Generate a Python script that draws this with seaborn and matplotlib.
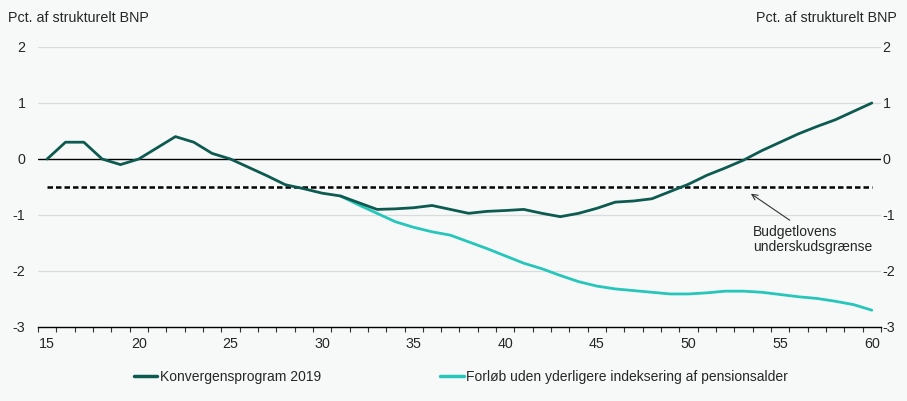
import numpy as np
import pandas as pd
import seaborn as sns
from matplotlib import pyplot as plt
from matplotlib.ticker import MultipleLocator

sns.set_style("white", {"axes.facecolor": "#f7f9f9", "figure.facecolor": "#f7f9f9"})
plt.rcParams['font.family'] = ['Liberation Sans', 'DejaVu Sans']
plt.rcParams['axes.unicode_minus'] = False

years = list(range(15, 61))
konvergens = [0.0, 0.3, 0.3, 0.0, -0.1, 0.0, 0.2, 0.4, 0.3, 0.1,
              0.0, -0.15, -0.3, -0.46, -0.53, -0.61, -0.66, -0.78, -0.9, -0.89,
              -0.87, -0.83, -0.9, -0.97, -0.935, -0.92, -0.9, -0.97, -1.03, -0.97,
              -0.88, -0.77, -0.75, -0.71, -0.58, -0.45, -0.29, -0.16, -0.02, 0.15,
              0.3, 0.45, 0.58, 0.7, 0.85, 1.0]
uden_indeksering = [-0.66, -0.82, -0.97, -1.12, -1.22, -1.3, -1.36, -1.48, -1.6, -1.73,
                    -1.86, -1.96, -2.08, -2.19, -2.27, -2.32, -2.35, -2.38, -2.41, -2.41,
                    -2.39, -2.36, -2.36, -2.38, -2.42, -2.46, -2.49, -2.54, -2.6, -2.7]
uden_years = years[16:]
graense = -0.5

names = ["Konvergensprogram 2019", "Forløb uden yderligere indeksering af pensionsalder"]
colors = ["#0d5b50", "#27c6ba"]

df = pd.concat([
    pd.DataFrame({"år": years, "værdi": konvergens, "serie": names[0]}),
    pd.DataFrame({"år": uden_years, "værdi": uden_indeksering, "serie": names[1]}),
])

fig = plt.figure(figsize=(9.07, 4.01), dpi=100)
ax = fig.add_axes([38/907, 1-327/401, (881-38)/907, 280/401])

ax.axhline(0, color="black", lw=1, zorder=1)
for g in [2, 1, -1, -2]:
    ax.axhline(g, color="#d9dcdc", lw=0.9, zorder=0)
ax.plot([years[0], years[-1]], [graense, graense], color="black", lw=1.8, dashes=(2.2, 1.2), zorder=2)

# cyan first so the dark line sits on top
sns.lineplot(data=df, x="år", y="værdi", hue="serie", hue_order=names[::-1],
             palette=colors[::-1], lw=2, ax=ax, legend=False, zorder=3)

ax.set_xlim(14.5, 60.5)
ax.set_ylim(-3, 2)
ax.set_xticks(range(15, 61, 5))
ax.xaxis.set_minor_locator(MultipleLocator(1, offset=0.5))
ax.tick_params(axis="x", which="major", bottom=False, length=0, pad=7, labelsize=10.3)
ax.tick_params(axis="x", which="minor", bottom=True, length=3.5, width=0.8,
               color="#333333", direction="out")
ax.tick_params(axis="y", length=0, labelsize=10.3, pad=9, labelleft=True, labelright=False)
ax.set_yticks([-3, -2, -1, 0, 1, 2])
ax.set_xlabel("")
ax.set_ylabel("")
for s in ["top", "left", "right"]:
    ax.spines[s].set_visible(False)
ax.spines["bottom"].set_color("black")
ax.spines["bottom"].set_linewidth(1)

ax2 = ax.twinx()
ax2.set_ylim(-3, 2)
ax2.set_yticks([-3, -2, -1, 0, 1, 2])
ax2.tick_params(axis="y", length=0, labelsize=10.3, pad=1)
for s in ax2.spines.values():
    s.set_visible(False)

fig.text(8/907, 1-18/401, "Pct. af strukturelt BNP", fontsize=10.3, va="center", ha="left")
fig.text(897/907, 1-18/401, "Pct. af strukturelt BNP", fontsize=10.3, va="center", ha="right")

ax.annotate("Budgetlovens\nunderskudsgrænse", xy=(53.4, -0.62), xytext=(53.5, -1.18),
            fontsize=10, ha="left", va="top", linespacing=1.05,
            arrowprops=dict(arrowstyle="->", color="#333333", lw=0.8, shrinkA=2, shrinkB=0,
                            relpos=(0.37, 1.0)))

handles = [plt.Line2D([], [], color=c, lw=2.5) for c in colors]
fig.legend(handles, names, loc="center", bbox_to_anchor=(0.508, 1-377/401), ncol=2,
           frameon=False, fontsize=10, handlelength=1.7, handletextpad=0.15, columnspacing=8.6)

fig.savefig("out.png", dpi=100, facecolor=fig.get_facecolor())
